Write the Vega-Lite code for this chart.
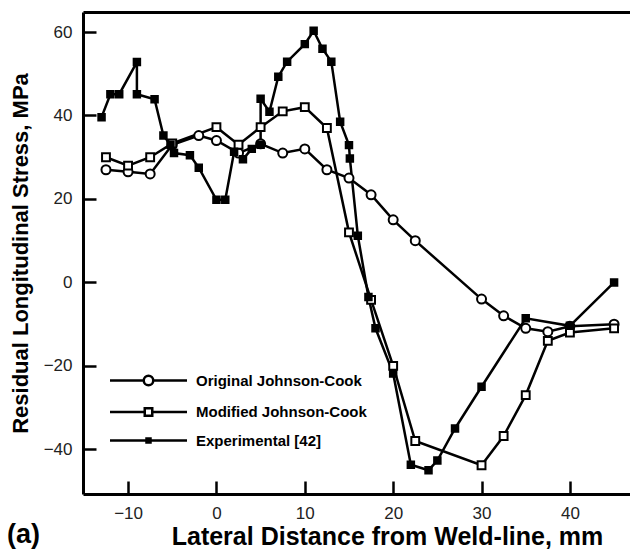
{
  "$schema": "https://vega.github.io/schema/vega-lite/v6.json",
  "width": 547,
  "height": 482,
  "autosize": {"type": "none"},
  "padding": {"left": 83, "top": 12, "right": 0, "bottom": 60},
  "background": "white",
  "config": {"view": {"stroke": null}, "font": "Liberation Sans"},
  "title": {"text": "(a)", "orient": "bottom", "anchor": "start", "frame": "group", "dx": -76, "dy": -31, "fontSize": 27, "fontWeight": "bold", "font": "Liberation Sans", "color": "black"},
  "data": {"values": [
    {"s": "Original Johnson-Cook", "i": 1, "x": -12.5, "y": 27},
    {"s": "Original Johnson-Cook", "i": 2, "x": -10, "y": 26.5},
    {"s": "Original Johnson-Cook", "i": 3, "x": -7.5, "y": 26},
    {"s": "Original Johnson-Cook", "i": 4, "x": -5, "y": 33},
    {"s": "Original Johnson-Cook", "i": 5, "x": -2, "y": 35.2},
    {"s": "Original Johnson-Cook", "i": 6, "x": 0, "y": 34},
    {"s": "Original Johnson-Cook", "i": 7, "x": 2.5, "y": 31},
    {"s": "Original Johnson-Cook", "i": 8, "x": 5, "y": 33.2},
    {"s": "Original Johnson-Cook", "i": 9, "x": 7.5, "y": 31},
    {"s": "Original Johnson-Cook", "i": 10, "x": 10, "y": 32},
    {"s": "Original Johnson-Cook", "i": 11, "x": 12.5, "y": 27},
    {"s": "Original Johnson-Cook", "i": 12, "x": 15, "y": 25},
    {"s": "Original Johnson-Cook", "i": 13, "x": 17.5, "y": 21},
    {"s": "Original Johnson-Cook", "i": 14, "x": 20, "y": 15},
    {"s": "Original Johnson-Cook", "i": 15, "x": 22.5, "y": 10},
    {"s": "Original Johnson-Cook", "i": 16, "x": 30, "y": -4},
    {"s": "Original Johnson-Cook", "i": 17, "x": 32.5, "y": -8},
    {"s": "Original Johnson-Cook", "i": 18, "x": 35, "y": -11},
    {"s": "Original Johnson-Cook", "i": 19, "x": 37.5, "y": -11.8},
    {"s": "Original Johnson-Cook", "i": 20, "x": 40, "y": -10.5},
    {"s": "Original Johnson-Cook", "i": 21, "x": 45, "y": -10},
    {"s": "Modified Johnson-Cook", "i": 1, "x": -12.5, "y": 30},
    {"s": "Modified Johnson-Cook", "i": 2, "x": -10, "y": 28},
    {"s": "Modified Johnson-Cook", "i": 3, "x": -7.5, "y": 30},
    {"s": "Modified Johnson-Cook", "i": 4, "x": -5, "y": 33.3},
    {"s": "Modified Johnson-Cook", "i": 5, "x": 0, "y": 37.2},
    {"s": "Modified Johnson-Cook", "i": 6, "x": 2.5, "y": 33},
    {"s": "Modified Johnson-Cook", "i": 7, "x": 5, "y": 37.2},
    {"s": "Modified Johnson-Cook", "i": 8, "x": 7.5, "y": 41},
    {"s": "Modified Johnson-Cook", "i": 9, "x": 10, "y": 42},
    {"s": "Modified Johnson-Cook", "i": 10, "x": 12.5, "y": 37},
    {"s": "Modified Johnson-Cook", "i": 11, "x": 15, "y": 12},
    {"s": "Modified Johnson-Cook", "i": 12, "x": 17.5, "y": -4.2},
    {"s": "Modified Johnson-Cook", "i": 13, "x": 20, "y": -20},
    {"s": "Modified Johnson-Cook", "i": 14, "x": 22.5, "y": -38},
    {"s": "Modified Johnson-Cook", "i": 15, "x": 30, "y": -43.8},
    {"s": "Modified Johnson-Cook", "i": 16, "x": 32.5, "y": -36.8},
    {"s": "Modified Johnson-Cook", "i": 17, "x": 35, "y": -27},
    {"s": "Modified Johnson-Cook", "i": 18, "x": 37.5, "y": -14},
    {"s": "Modified Johnson-Cook", "i": 19, "x": 40, "y": -12},
    {"s": "Modified Johnson-Cook", "i": 20, "x": 45, "y": -11},
    {"s": "Experimental [42]", "i": 1, "x": -13, "y": 39.6},
    {"s": "Experimental [42]", "i": 2, "x": -12, "y": 45.1},
    {"s": "Experimental [42]", "i": 3, "x": -11, "y": 45.1},
    {"s": "Experimental [42]", "i": 4, "x": -9, "y": 52.8},
    {"s": "Experimental [42]", "i": 5, "x": -9, "y": 45.1},
    {"s": "Experimental [42]", "i": 6, "x": -7, "y": 43.9},
    {"s": "Experimental [42]", "i": 7, "x": -6, "y": 35.2},
    {"s": "Experimental [42]", "i": 8, "x": -5.2, "y": 33},
    {"s": "Experimental [42]", "i": 9, "x": -4.8, "y": 31},
    {"s": "Experimental [42]", "i": 10, "x": -3, "y": 30.5},
    {"s": "Experimental [42]", "i": 11, "x": -2, "y": 27.5},
    {"s": "Experimental [42]", "i": 12, "x": 0, "y": 19.8},
    {"s": "Experimental [42]", "i": 13, "x": 1, "y": 19.8},
    {"s": "Experimental [42]", "i": 14, "x": 2, "y": 31.3},
    {"s": "Experimental [42]", "i": 15, "x": 3, "y": 29.5},
    {"s": "Experimental [42]", "i": 16, "x": 4, "y": 32},
    {"s": "Experimental [42]", "i": 17, "x": 5, "y": 33},
    {"s": "Experimental [42]", "i": 18, "x": 5, "y": 44},
    {"s": "Experimental [42]", "i": 19, "x": 6, "y": 40.9},
    {"s": "Experimental [42]", "i": 20, "x": 7, "y": 49.3},
    {"s": "Experimental [42]", "i": 21, "x": 8, "y": 52.9},
    {"s": "Experimental [42]", "i": 22, "x": 10, "y": 57.1},
    {"s": "Experimental [42]", "i": 23, "x": 11, "y": 60.3},
    {"s": "Experimental [42]", "i": 24, "x": 12, "y": 56},
    {"s": "Experimental [42]", "i": 25, "x": 13, "y": 52.9},
    {"s": "Experimental [42]", "i": 26, "x": 14, "y": 38.5},
    {"s": "Experimental [42]", "i": 27, "x": 15, "y": 32.9},
    {"s": "Experimental [42]", "i": 28, "x": 15.1, "y": 29.7},
    {"s": "Experimental [42]", "i": 29, "x": 16, "y": 11.2},
    {"s": "Experimental [42]", "i": 30, "x": 17.2, "y": -3.5},
    {"s": "Experimental [42]", "i": 31, "x": 18, "y": -11},
    {"s": "Experimental [42]", "i": 32, "x": 20, "y": -21.8},
    {"s": "Experimental [42]", "i": 33, "x": 22, "y": -43.7},
    {"s": "Experimental [42]", "i": 34, "x": 24, "y": -45},
    {"s": "Experimental [42]", "i": 35, "x": 25, "y": -42.7},
    {"s": "Experimental [42]", "i": 36, "x": 27, "y": -35},
    {"s": "Experimental [42]", "i": 37, "x": 30, "y": -25},
    {"s": "Experimental [42]", "i": 38, "x": 35, "y": -8.6},
    {"s": "Experimental [42]", "i": 39, "x": 40, "y": -10.4},
    {"s": "Experimental [42]", "i": 40, "x": 45, "y": 0}
  ]},
  "layer": [
    {
      "mark": {"type": "line", "color": "black", "strokeWidth": 2.5},
      "encoding": {
        "x": {"field": "x", "type": "quantitative",
          "scale": {"domain": [-15.1, 46.8], "nice": false, "zero": false},
          "axis": {"orient": "bottom", "values": [-10, 0, 10, 20, 30, 40], "grid": false,
            "tickSize": -13, "tickWidth": 2.5, "tickColor": "black",
            "domainColor": "black", "domainWidth": 3,
            "labelFontSize": 17, "labelColor": "#222", "labelPadding": 24, "labelFont": "Liberation Sans",
            "title": "Lateral Distance from Weld-line, mm", "titleFontSize": 25, "titleFontWeight": "bold",
            "titleColor": "black", "titlePadding": 3, "titleFont": "Liberation Sans", "titleX": 304, "titleAlign": "center"}},
        "y": {"field": "y", "type": "quantitative",
          "scale": {"domain": [-50.7, 64.8], "nice": false, "zero": false},
          "axis": {"orient": "left", "values": [-40, -20, 0, 20, 40, 60], "grid": false,
            "tickSize": -13, "tickWidth": 2.5, "tickColor": "black",
            "domainColor": "black", "domainWidth": 3,
            "labelFontSize": 17, "labelColor": "#222", "labelPadding": 24, "labelFont": "Liberation Sans",
            "title": "Residual Longitudinal Stress, MPa", "titleFontSize": 22, "titleFontWeight": "bold",
            "titleColor": "black", "titlePadding": 11, "titleFont": "Liberation Sans"}},
        "detail": {"field": "s", "type": "nominal"},
        "order": {"field": "i", "type": "quantitative"}
      }
    },
    {
      "mark": {"type": "point", "filled": true, "stroke": "black", "strokeWidth": 2, "opacity": 1},
      "encoding": {
        "x": {"field": "x", "type": "quantitative",
          "axis": {"orient": "top", "labels": false, "ticks": false, "title": null, "grid": false,
            "domainColor": "black", "domainWidth": 3}},
        "y": {"field": "y", "type": "quantitative", "axis": null},
        "shape": {"field": "s", "type": "nominal", "legend": null,
          "scale": {"domain": ["Original Johnson-Cook", "Modified Johnson-Cook", "Experimental [42]"], "range": ["circle", "square", "square"]}},
        "fill": {"field": "s", "type": "nominal", "legend": null,
          "scale": {"domain": ["Original Johnson-Cook", "Modified Johnson-Cook", "Experimental [42]"], "range": ["white", "white", "black"]}},
        "size": {"field": "s", "type": "nominal", "legend": null,
          "scale": {"domain": ["Original Johnson-Cook", "Modified Johnson-Cook", "Experimental [42]"], "range": [81, 42, 25]}}
      }
    },
    {
      "transform": [{"filter": "datum.x > 1000"}],
      "mark": {"type": "point", "filled": false, "color": "black", "strokeWidth": 2.5, "opacity": 1, "size": 100},
      "encoding": {
        "x": {"field": "x", "type": "quantitative", "axis": null},
        "y": {"field": "y", "type": "quantitative", "axis": null},
        "shape": {"field": "s", "type": "nominal",
          "scale": {"domain": ["Original Johnson-Cook", "Modified Johnson-Cook", "Experimental [42]"],
            "range": [
              "M-7.7,0L-0.95,0M0.95,0L7.7,0M0.95,0A0.95,0.95,0,1,1,-0.95,0A0.95,0.95,0,1,1,0.95,0Z",
              "M-7.7,0L-0.75,0M0.75,0L7.7,0M-0.75,-0.75L0.75,-0.75L0.75,0.75L-0.75,0.75Z",
              "M-7.7,0L7.7,0M-0.4,-0.4L0.4,-0.4L0.4,0.4L-0.4,0.4ZM-0.2,-0.2L0.2,-0.2L0.2,0.2L-0.2,0.2Z"]},
          "legend": {"orient": "none", "legendX": 58, "legendY": 361, "title": null, "padding": 0,
            "labelFontSize": 15, "labelFont": "Liberation Sans", "labelFontWeight": "bold", "labelColor": "black",
            "labelLimit": 0, "rowPadding": 11.5, "labelOffset": 40, "symbolStrokeWidth": 2.5, "symbolSize": 100}}
      }
    }
  ],
  "resolve": {"axis": {"x": "independent", "y": "independent"}, "scale": {"shape": "independent", "fill": "independent", "size": "independent"}}
}
